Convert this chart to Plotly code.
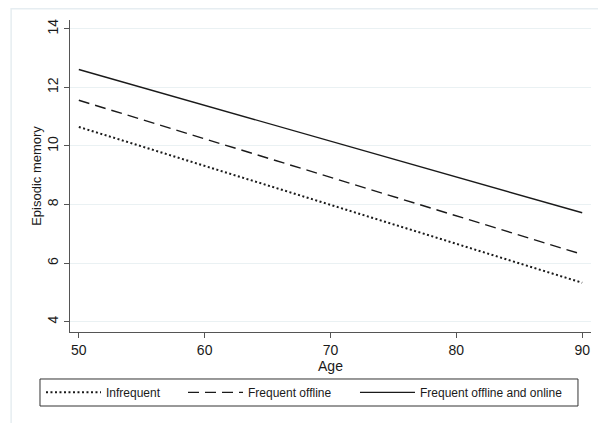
import plotly.graph_objects as go

ages = [50, 90]
infrequent = [10.65, 5.33]
frequent_offline = [11.56, 6.30]
frequent_offline_online = [12.61, 7.72]

series_names = ["Infrequent", "Frequent offline", "Frequent offline and online"]
x_ticks = [50, 60, 70, 80, 90]
y_ticks = [4, 6, 8, 10, 12, 14]

fig = go.Figure()
fig.add_trace(go.Scatter(x=ages, y=infrequent, mode="lines", name=series_names[0],
                         legend="legend",
                         line=dict(color="#1a1a1a", width=2, dash="2px,2.5px")))
fig.add_trace(go.Scatter(x=ages, y=frequent_offline, mode="lines", name=series_names[1],
                         legend="legend2",
                         line=dict(color="#1a1a1a", width=1.4, dash="11px,6px")))
fig.add_trace(go.Scatter(x=ages, y=frequent_offline_online, mode="lines", name=series_names[2],
                         legend="legend3",
                         line=dict(color="#1a1a1a", width=1.4)))

leg_common = dict(orientation="h", xanchor="left", y=-0.1935, yanchor="middle",
                  borderwidth=0, bgcolor="rgba(0,0,0,0)",
                  font=dict(size=12), itemwidth=55)

fig.update_layout(
    width=606, height=423,
    margin=dict(l=62, r=23, t=12, b=99, autoexpand=False),
    paper_bgcolor="white", plot_bgcolor="white",
    font=dict(family="Liberation Sans, Arial, sans-serif", color="#1a1a1a", size=13),
    showlegend=True,
    legend=dict(x=-0.0557, **leg_common),
    legend2=dict(x=0.2169, **leg_common),
    legend3=dict(x=0.547, **leg_common),
    xaxis=dict(range=[49.3, 90.7], tickvals=x_ticks, showgrid=False, zeroline=False,
               showline=True, linecolor="#555555", linewidth=1.2,
               ticks="outside", ticklen=5, tickcolor="#555555",
               tickfont=dict(size=14),
               title=dict(text="Age", font=dict(size=14), standoff=0)),
    yaxis=dict(range=[3.65, 14.3], tickvals=y_ticks, showgrid=True, gridcolor="#eaf1f3",
               gridwidth=1, zeroline=False,
               showline=True, linecolor="#555555", linewidth=1.2,
               ticks="outside", ticklen=5, tickcolor="#555555",
               tickangle=-90, tickfont=dict(size=14),
               title=dict(text="Episodic memory", font=dict(size=13), standoff=0)),
    shapes=[
        dict(type="rect", xref="paper", yref="paper",
             x0=-0.113, x1=1.027, y0=-0.40, y1=1.036,
             line=dict(color="#e6edf1", width=1.5), fillcolor="rgba(0,0,0,0)",
             layer="below"),
        dict(type="rect", xref="paper", yref="paper",
             x0=-0.0576, x1=0.975, y0=-0.2372, y1=-0.1506,
             line=dict(color="#333333", width=1), fillcolor="white",
             layer="below"),
    ],
)

fig.write_html("out.html")
